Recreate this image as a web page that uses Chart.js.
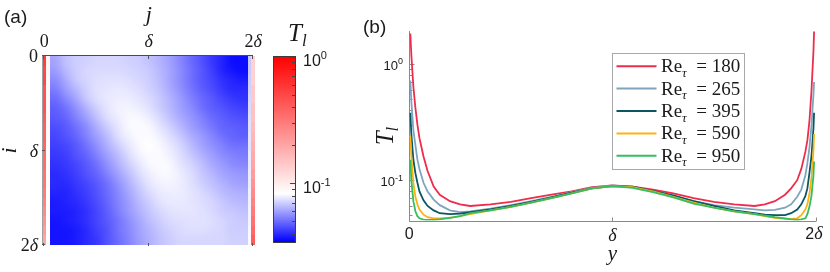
<!DOCTYPE html>
<html><head><meta charset="utf-8">
<script src="https://cdn.jsdelivr.net/npm/chart.js@4.4.1/dist/chart.umd.min.js"></script>
<style>
html,body{margin:0;padding:0;background:#fff;}
#wrap{position:relative;width:830px;height:272px;overflow:hidden;background:#fff}
canvas{position:absolute;top:0}
</style>
</head><body><div id="wrap">
<canvas id="ca" width="265" height="272" style="left:0;width:265px;height:272px"></canvas>
<canvas id="cc" width="95" height="272" style="left:265px;width:95px;height:272px"></canvas>
<canvas id="cb" width="470" height="272" style="left:360px;width:470px;height:272px"></canvas>
</div>
<script>
// ---------------- DATA ----------------
// panel (a): heat map T_l(i,j), positions in units of delta
const heatTicks = [0, 1, 2];
const heatTickLabels = ['0', 'δ', '2δ'];
const heatColEdges = [-0.01, 0.02, 0.055, 0.15, 0.25, 0.35, 0.45, 0.55, 0.65, 0.75, 0.85, 0.95, 1.05, 1.15, 1.25, 1.35, 1.45, 1.55, 1.65, 1.75, 1.85, 1.95, 1.975, 2.02];
const heatRowEdges = [0, 0.1, 0.2, 0.3, 0.4, 0.5, 0.6, 0.7, 0.8, 0.9, 1.0, 1.1, 1.2, 1.3, 1.4, 1.5, 1.6, 1.7, 1.8, 1.9, 2.0];
const heatRows = [
 [0.55,0.092, 0.061,0.067,0.070,0.071,0.072,0.072,0.072,0.071,0.070,0.067,0.064,0.060,0.055,0.050,0.046,0.042,0.039,0.036,0.036, 0.069,0.13],
 [0.50,0.092, 0.059,0.065,0.070,0.072,0.073,0.073,0.073,0.072,0.071,0.069,0.065,0.061,0.056,0.051,0.047,0.043,0.039,0.037,0.036, 0.069,0.13],
 [0.50,0.091, 0.056,0.062,0.069,0.072,0.074,0.075,0.075,0.074,0.072,0.070,0.066,0.061,0.056,0.051,0.047,0.044,0.041,0.039,0.038, 0.070,0.13],
 [0.45,0.091, 0.053,0.059,0.065,0.071,0.075,0.076,0.077,0.076,0.074,0.071,0.067,0.062,0.057,0.052,0.048,0.045,0.042,0.040,0.040, 0.071,0.14],
 [0.45,0.090, 0.050,0.055,0.061,0.069,0.074,0.077,0.078,0.078,0.076,0.073,0.069,0.064,0.059,0.054,0.050,0.047,0.044,0.042,0.041, 0.072,0.14],
 [0.45,0.090, 0.048,0.051,0.057,0.064,0.071,0.076,0.079,0.080,0.078,0.075,0.070,0.065,0.060,0.056,0.051,0.048,0.046,0.044,0.043, 0.073,0.15],
 [0.42,0.089, 0.047,0.049,0.054,0.060,0.067,0.074,0.078,0.081,0.081,0.078,0.073,0.067,0.062,0.058,0.054,0.050,0.048,0.046,0.045, 0.074,0.15],
 [0.40,0.089, 0.045,0.047,0.051,0.056,0.063,0.070,0.076,0.081,0.082,0.081,0.076,0.071,0.065,0.060,0.056,0.052,0.049,0.048,0.047, 0.075,0.16],
 [0.40,0.088, 0.044,0.046,0.049,0.054,0.060,0.066,0.074,0.079,0.082,0.082,0.079,0.074,0.069,0.063,0.059,0.055,0.051,0.049,0.048, 0.076,0.17],
 [0.38,0.088, 0.043,0.044,0.047,0.051,0.057,0.063,0.070,0.076,0.081,0.083,0.081,0.077,0.072,0.066,0.061,0.057,0.054,0.051,0.051, 0.076,0.18],
 [0.36,0.088, 0.042,0.043,0.046,0.049,0.054,0.060,0.066,0.073,0.079,0.082,0.082,0.079,0.074,0.069,0.064,0.060,0.056,0.054,0.053, 0.077,0.19],
 [0.35,0.087, 0.041,0.042,0.044,0.047,0.051,0.057,0.063,0.070,0.076,0.081,0.082,0.081,0.076,0.072,0.067,0.062,0.059,0.056,0.055, 0.077,0.20],
 [0.33,0.087, 0.040,0.041,0.043,0.046,0.049,0.054,0.060,0.066,0.073,0.078,0.081,0.081,0.078,0.074,0.069,0.065,0.061,0.059,0.058, 0.078,0.22],
 [0.32,0.087, 0.040,0.040,0.042,0.044,0.047,0.051,0.057,0.063,0.070,0.076,0.079,0.080,0.078,0.075,0.071,0.067,0.064,0.061,0.060, 0.078,0.24],
 [0.30,0.086, 0.039,0.039,0.041,0.043,0.046,0.050,0.055,0.061,0.067,0.073,0.077,0.078,0.078,0.076,0.073,0.070,0.066,0.064,0.063, 0.079,0.26],
 [0.28,0.086, 0.038,0.039,0.040,0.042,0.045,0.049,0.054,0.059,0.065,0.070,0.075,0.077,0.077,0.076,0.074,0.072,0.069,0.066,0.065, 0.079,0.28],
 [0.26,0.086, 0.038,0.038,0.039,0.041,0.044,0.048,0.053,0.058,0.063,0.068,0.072,0.075,0.076,0.076,0.075,0.073,0.070,0.069,0.067, 0.080,0.30],
 [0.24,0.085, 0.037,0.038,0.039,0.041,0.044,0.047,0.051,0.056,0.061,0.066,0.070,0.073,0.074,0.075,0.075,0.074,0.072,0.070,0.069, 0.080,0.33],
 [0.22,0.085, 0.037,0.037,0.038,0.040,0.043,0.046,0.051,0.055,0.060,0.064,0.068,0.071,0.073,0.074,0.074,0.073,0.072,0.070,0.070, 0.081,0.36],
 [0.20,0.085, 0.037,0.037,0.038,0.040,0.042,0.046,0.050,0.054,0.059,0.063,0.067,0.070,0.072,0.072,0.072,0.072,0.072,0.071,0.071, 0.082,0.40]
];
// colour bar (log scale of T_l)
const cbarRange = [0.0346, 1];
const cbarWhite = 0.083;
const cbarMajorTicks = [0.1, 1];
const cbarMajorLabels = [['10', '-1'], ['10', '0']];
const cbarMinorTicks = [0.04, 0.05, 0.06, 0.07, 0.08, 0.09, 0.2, 0.3, 0.4, 0.5, 0.6, 0.7, 0.8, 0.9];

// panel (b): T_l(y) profiles, y in units of delta
const yPos = [0.005, 0.01, 0.02, 0.03, 0.04, 0.05, 0.07, 0.09, 0.12, 0.15, 0.2, 0.25, 0.3, 0.4, 0.5, 0.6, 0.7, 0.8, 0.9, 1.0,
              1.1, 1.2, 1.3, 1.4, 1.5, 1.6, 1.7, 1.75, 1.8, 1.85, 1.88, 1.91, 1.93, 1.95, 1.96, 1.97, 1.98, 1.99, 1.993];
const tl180 = [1.83, 1.2, 0.64, 0.42, 0.3, 0.23, 0.16, 0.12, 0.088, 0.075, 0.066, 0.062, 0.060, 0.062, 0.065, 0.070, 0.075, 0.080, 0.087, 0.090,
               0.088, 0.083, 0.077, 0.070, 0.065, 0.062, 0.060, 0.062, 0.066, 0.075, 0.085, 0.10, 0.125, 0.175, 0.22, 0.32, 0.58, 1.3, 1.9];
const tl265 = [0.72, 0.48, 0.27, 0.2, 0.15, 0.125, 0.095, 0.08, 0.068, 0.061, 0.055, 0.053, 0.054, 0.057, 0.061, 0.066, 0.072, 0.079, 0.086, 0.090,
               0.087, 0.080, 0.073, 0.066, 0.061, 0.058, 0.056, 0.055, 0.0555, 0.058, 0.062, 0.072, 0.083, 0.11, 0.14, 0.19, 0.29, 0.55, 0.7];
const tl395 = [0.38, 0.25, 0.15, 0.115, 0.095, 0.08, 0.067, 0.060, 0.055, 0.052, 0.051, 0.0515, 0.053, 0.056, 0.060, 0.065, 0.071, 0.078, 0.085, 0.089,
               0.088, 0.081, 0.074, 0.066, 0.060, 0.055, 0.052, 0.0505, 0.050, 0.050, 0.052, 0.056, 0.062, 0.073, 0.085, 0.115, 0.16, 0.28, 0.38];
const tl590 = [0.24, 0.16, 0.095, 0.072, 0.062, 0.056, 0.0505, 0.048, 0.047, 0.047, 0.0475, 0.049, 0.051, 0.055, 0.059, 0.064, 0.070, 0.077, 0.085, 0.089,
               0.087, 0.080, 0.072, 0.064, 0.058, 0.054, 0.051, 0.049, 0.0475, 0.0465, 0.0465, 0.047, 0.050, 0.056, 0.062, 0.076, 0.105, 0.18, 0.25];
const tl950 = [0.15, 0.10, 0.066, 0.054, 0.049, 0.047, 0.0458, 0.0455, 0.0455, 0.046, 0.0475, 0.049, 0.052, 0.055, 0.059, 0.064, 0.070, 0.077, 0.085, 0.089,
               0.086, 0.079, 0.071, 0.063, 0.058, 0.054, 0.051, 0.0495, 0.048, 0.047, 0.046, 0.0455, 0.046, 0.047, 0.051, 0.059, 0.073, 0.11, 0.145];
const reNumbers = ['180', '265', '395', '590', '950'];
const profileRange = [0.045, 1.92];
const profTicks = [0, 1, 2];
const profTickLabels = ['0', 'δ', '2δ'];
const profMajorTicks = [0.1, 1];
const profMajorLabels = [['10', '-1'], ['10', '0']];
const profMinorTicks = [0.05, 0.06, 0.07, 0.08, 0.09, 0.2, 0.3, 0.4, 0.5, 0.6, 0.7, 0.8, 0.9];

// ---------------- STYLE / HELPERS ----------------
const SERIF = '"Liberation Serif","Times New Roman",serif';
const SANS = '"Liberation Sans",Arial,Helvetica,sans-serif';
const lineColors = ['#ee2c4c', '#7ea5bd', '#0b5662', '#fbb313', '#36bd5e'];
const TXT = '#1a1a1a';

function cmap(T) {
  const L = Math.log10(T), LW = Math.log10(cbarWhite), Lmin = Math.log10(cbarRange[0]), Lmax = Math.log10(cbarRange[1]);
  if (L >= LW) {
    const t = Math.min(1, (L - LW) / (Lmax - LW));
    const g = Math.round(255 * (1 - t));
    return `rgb(255,${g},${g})`;
  }
  const s = Math.min(1, (LW - L) / (LW - Lmin));
  const g = Math.round(255 * (1 - s));
  return `rgb(${g},${g},255)`;
}
function drawRuns(ctx, parts, x, y, align) {
  let w = 0;
  for (const p of parts) { ctx.font = p[1]; w += ctx.measureText(p[0]).width; }
  let cx = align === 'right' ? x - w : (align === 'center' ? x - w / 2 : x);
  ctx.textAlign = 'left'; ctx.textBaseline = 'alphabetic';
  for (const p of parts) { ctx.font = p[1]; ctx.fillText(p[0], cx, y + (p[2] || 0)); cx += ctx.measureText(p[0]).width; }
}
function deltaParts(lbl, digitFont, size) {
  const it = 'italic ' + size + 'px ' + SERIF;
  if (lbl === 'δ') return [['δ', it]];
  if (lbl === '2δ') return [['2', digitFont], ['δ', it]];
  return [[lbl, digitFont]];
}
function line(ctx, x0, y0, x1, y1) { ctx.beginPath(); ctx.moveTo(x0, y0); ctx.lineTo(x1, y1); ctx.stroke(); }

// ---------------- PANEL (a) ----------------
// wall strips (first two and last two columns) drawn as cells; interior cells drawn with interpolated shading
const heatPlugin = {
  id: 'heat',
  afterDatasetsDraw(chart) {
    const { ctx } = chart; const xs = chart.scales.x, ys = chart.scales.y;
    ctx.save();
    const nR = heatRows.length, nC = heatRows[0].length;
    const firstIn = 2, lastIn = nC - 3;
    const off = document.createElement('canvas');
    off.width = lastIn - firstIn + 1; off.height = nR;
    const octx = off.getContext('2d');
    for (let r = 0; r < nR; r++) for (let c = firstIn; c <= lastIn; c++) {
      octx.fillStyle = cmap(heatRows[r][c]); octx.fillRect(c - firstIn, r, 1, 1);
    }
    const ix0 = Math.round(xs.getPixelForValue(heatColEdges[firstIn])), ix1 = Math.round(xs.getPixelForValue(heatColEdges[lastIn + 1]));
    const iy0 = Math.round(ys.getPixelForValue(heatRowEdges[0])), iy1 = Math.round(ys.getPixelForValue(heatRowEdges[nR]));
    ctx.imageSmoothingEnabled = true; ctx.imageSmoothingQuality = 'high';
    ctx.drawImage(off, ix0, iy0, ix1 - ix0, iy1 - iy0);
    for (let r = 0; r < nR; r++) {
      const Y0 = Math.round(ys.getPixelForValue(heatRowEdges[r])), Y1 = Math.round(ys.getPixelForValue(heatRowEdges[r + 1]));
      for (const c of [0, 1, nC - 2, nC - 1]) {
        const X0 = Math.round(xs.getPixelForValue(heatColEdges[c])), X1 = Math.round(xs.getPixelForValue(heatColEdges[c + 1]));
        ctx.fillStyle = cmap(heatRows[r][c]);
        ctx.fillRect(X0, Y0, X1 - X0, Y1 - Y0);
      }
    }
    const ca = chart.chartArea;
    const L = Math.round(ca.left), R = Math.round(ca.right), T = Math.round(ca.top), B = Math.round(ca.bottom);
    ctx.lineWidth = 1;
    ctx.strokeStyle = '#4a4a4a'; line(ctx, L - 0.5, T - 0.5, R, T - 0.5);
    ctx.strokeStyle = '#a0a0a0'; line(ctx, L - 1.5, T - 0.5, L - 1.5, B);
    ctx.strokeStyle = '#555';
    for (const v of heatTicks) {
      const px = Math.round(xs.getPixelForValue(v)) - 0.5, py = Math.round(ys.getPixelForValue(v)) - 0.5;
      line(ctx, px, T, px, T + 3); line(ctx, px, B - 2, px, B + 1);
      line(ctx, L - 2, py, L + 1, py);
    }
    ctx.fillStyle = TXT;
    heatTicks.forEach((v, k) => {
      const digit = '18px ' + SERIF;
      drawRuns(ctx, deltaParts(heatTickLabels[k], digit, 18), xs.getPixelForValue(v), 47, 'center');
      drawRuns(ctx, deltaParts(heatTickLabels[k], digit, 18), 38, ys.getPixelForValue(v) + 6, 'right');
    });
    drawRuns(ctx, [['j', 'italic 22px ' + SERIF]], xs.getPixelForValue(1), 21, 'center');
    ctx.save(); ctx.translate(16, ys.getPixelForValue(1)); ctx.rotate(-Math.PI / 2);
    drawRuns(ctx, [['i', 'italic 22px ' + SERIF]], 0, 0, 'center'); ctx.restore();
    drawRuns(ctx, [['(a)', '19px ' + SANS]], 4, 23, 'left');
    ctx.restore();
  }
};
new Chart(document.getElementById('ca'), {
  type: 'scatter',
  data: { datasets: [{ data: [] }] },
  options: {
    responsive: false, animation: false, devicePixelRatio: 1,
    layout: { padding: { left: 44.3, right: 11.7, top: 56.3, bottom: 27.3 } },
    plugins: { legend: { display: false }, tooltip: { enabled: false } },
    scales: {
      x: { type: 'linear', min: 0, max: 2, display: false },
      y: { type: 'linear', min: 0, max: 2, reverse: true, display: false }
    }
  },
  plugins: [heatPlugin]
});

// ---------------- COLOUR BAR ----------------
const cbarPlugin = {
  id: 'cbar',
  afterDatasetsDraw(chart) {
    const { ctx } = chart; const ys = chart.scales.y; const ca = chart.chartArea;
    const L = Math.round(ca.left), R = Math.round(ca.right), T = Math.round(ca.top), B = Math.round(ca.bottom);
    ctx.save();
    for (let py = T; py < B; py++) {
      ctx.fillStyle = cmap(ys.getValueForPixel(py + 0.5));
      ctx.fillRect(L, py, R - L, 1);
    }
    ctx.strokeStyle = '#3c3c3c'; ctx.lineWidth = 1;
    ctx.strokeRect(L - 0.5, T - 0.5, R - L + 1, B - T + 1);
    ctx.strokeStyle = '#444';
    for (const v of cbarMinorTicks) { const py = Math.round(ys.getPixelForValue(v)) + 0.5; line(ctx, R - 3, py, R, py); }
    for (const v of cbarMajorTicks) { const py = Math.round(ys.getPixelForValue(v)) + 0.5; line(ctx, R - 5, py, R, py); }
    ctx.fillStyle = TXT;
    cbarMajorTicks.forEach((v, k) => {
      const py = ys.getPixelForValue(v);
      drawRuns(ctx, [[cbarMajorLabels[k][0], '16px ' + SANS], [cbarMajorLabels[k][1], '11px ' + SANS, -7]], 38, py + 9.5, 'left');
    });
    drawRuns(ctx, [['T', 'italic 25px ' + SERIF], ['l', 'italic 17px ' + SERIF, 5]], 23, 41, 'left');
    ctx.restore();
  }
};
new Chart(document.getElementById('cc'), {
  type: 'scatter',
  data: { datasets: [{ data: [] }] },
  options: {
    responsive: false, animation: false, devicePixelRatio: 1,
    layout: { padding: { left: 9, right: 64.7, top: 56.7, bottom: 30.3 } },
    plugins: { legend: { display: false }, tooltip: { enabled: false } },
    scales: {
      x: { type: 'linear', min: 0, max: 1, display: false },
      y: { type: 'logarithmic', min: cbarRange[0], max: cbarRange[1], display: false }
    }
  },
  plugins: [cbarPlugin]
});

// ---------------- PANEL (b) ----------------
const profiles = [tl180, tl265, tl395, tl590, tl950];
const profAxes = {
  id: 'profAxes',
  beforeDatasetsDraw(chart) {
    const { ctx } = chart; const xs = chart.scales.x, ys = chart.scales.y; const ca = chart.chartArea;
    ctx.save();
    ctx.strokeStyle = '#8a8a8a'; ctx.lineWidth = 1;
    const X0 = Math.round(ca.left) + 0.5, YB = Math.round(ca.bottom) + 0.5;
    line(ctx, X0, ca.top, X0, YB); line(ctx, X0, YB, ca.right + 0.5, YB);
    for (const v of profTicks) { const px = Math.round(xs.getPixelForValue(v)) + 0.5; line(ctx, px, YB, px, YB - 4); }
    for (const v of profMinorTicks) { const py = Math.round(ys.getPixelForValue(v)) + 0.5; line(ctx, X0, py, X0 + 3, py); }
    for (const v of profMajorTicks) { const py = Math.round(ys.getPixelForValue(v)) + 0.5; line(ctx, X0, py, X0 + 5, py); }
    ctx.fillStyle = TXT;
    profTicks.forEach((v, k) => {
      const lbl = profTickLabels[k];
      drawRuns(ctx, deltaParts(lbl, '16px ' + SANS, 18), xs.getPixelForValue(v) - (k === 2 ? 1.5 : 0), lbl === 'δ' ? 240.5 : 238.5, 'center');
    });
    profMajorTicks.forEach((v, k) => {
      drawRuns(ctx, [[profMajorLabels[k][0], '13px ' + SANS], [profMajorLabels[k][1], '9px ' + SANS, -5.5]], 43, ys.getPixelForValue(v) + 6, 'right');
    });
    drawRuns(ctx, [['y', 'italic 21px ' + SERIF]], xs.getPixelForValue(1), 260, 'center');
    ctx.save(); ctx.translate(33, 136); ctx.rotate(-Math.PI / 2);
    drawRuns(ctx, [['T', 'italic 25px ' + SERIF], ['l', 'italic 17px ' + SERIF, 5]], 0, 0, 'center'); ctx.restore();
    drawRuns(ctx, [['(b)', '19px ' + SANS]], 3, 33, 'left');
    ctx.restore();
  },
  afterDatasetsDraw(chart) {
    const { ctx } = chart;
    ctx.save();
    const bx = 252.5, by = 53.5, bw = 132, bh = 116;
    ctx.fillStyle = '#fff'; ctx.fillRect(bx, by, bw, bh);
    ctx.strokeStyle = '#a8a8a8'; ctx.lineWidth = 1; ctx.strokeRect(bx, by, bw, bh);
    reNumbers.forEach((n, k) => {
      const ry = by + 12.7 + k * 22.4;
      ctx.strokeStyle = lineColors[k]; ctx.lineWidth = 2; line(ctx, 256.5, ry, 296.5, ry);
      ctx.fillStyle = TXT;
      drawRuns(ctx, [['Re', '19px ' + SERIF], ['τ', 'italic 13px ' + SERIF, 4.5], ['  = ' + n, '19px ' + SERIF]], 301, ry + 6, 'left');
    });
    ctx.restore();
  }
};
new Chart(document.getElementById('cb'), {
  type: 'line',
  data: {
    datasets: profiles.map((arr, k) => ({
      label: 'Re_tau = ' + reNumbers[k],
      data: yPos.map((x, i) => ({ x: x, y: arr[i] })),
      borderColor: lineColors[k], borderWidth: 1.8, pointRadius: 0, tension: 0, fill: false,
      order: 5 - k
    }))
  },
  options: {
    responsive: false, animation: false, devicePixelRatio: 1,
    layout: { padding: { left: 49.3, right: 14.5, top: 31, bottom: 51.5 } },
    plugins: { legend: { display: false }, tooltip: { enabled: false } },
    scales: {
      x: { type: 'linear', min: 0, max: 2, display: false },
      y: { type: 'logarithmic', min: profileRange[0], max: profileRange[1], display: false }
    }
  },
  plugins: [profAxes]
});
</script>
</body></html>
